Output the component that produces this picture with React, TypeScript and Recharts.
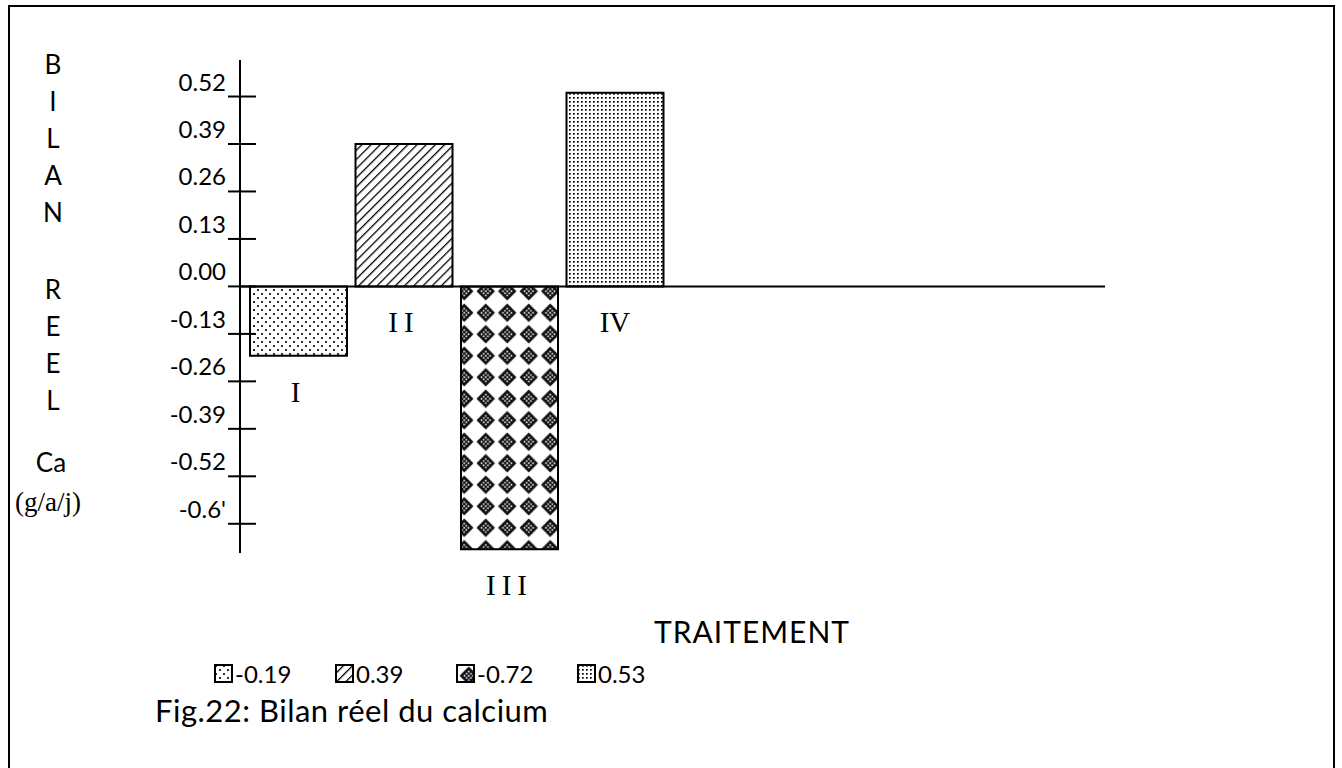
import React from 'react';
import { BarChart, Bar, XAxis, YAxis, ReferenceLine, Cell, LabelList } from 'recharts';

// treatments and their real calcium balance (g/a/j)
const treatments = ['I', 'II', 'III', 'IV'];
const balances = [-0.19, 0.39, -0.72, 0.53];
const legendLabels = ['-0.19', '0.39', '-0.72', '0.53'];

// y axis ticks as printed on the figure
const yTicks = [0.52, 0.39, 0.26, 0.13, 0, -0.13, -0.26, -0.39, -0.52, -0.65];
const yTickLabels = ['0.52', '0.39', '0.26', '0.13', '0.00', '-0.13', '-0.26', '-0.39', '-0.52', "-0.6'"];

const sideWord1 = ['B', 'I', 'L', 'A', 'N'];
const sideWord2 = ['R', 'E', 'E', 'L'];

const patternIds = ['pStipple', 'pHatch', 'pDiamond', 'pGrid'];

const data = treatments.map((name, i) => ({ name, value: balances[i] }));

const sans = 'Lato, "DejaVu Sans", sans-serif';
const serif = '"Liberation Serif", "DejaVu Serif", serif';

const YTick = (props: any) => {
  const { y, payload } = props;
  const idx = yTicks.indexOf(payload.value);
  return (
    <g>
      <line x1={228} x2={256} y1={y} y2={y} stroke="#000" strokeWidth={2} />
      <text x={226} y={y - 6} textAnchor="end" fontSize={24} fontFamily={sans} fill="#000">
        {idx >= 0 ? yTickLabels[idx] : payload.value}
      </text>
    </g>
  );
};

const RomanLabel = (props: any) => {
  const { x, y, width, height, value } = props;
  const bottom = Math.max(y, y + height);
  const spaced = !String(value).includes('V');
  return (
    <text
      x={x + width / 2}
      y={bottom + 46}
      textAnchor="middle"
      fontSize={29}
      fontFamily={serif}
      letterSpacing={spaced ? 6 : 0}
      fill="#000"
    >
      {value}
    </text>
  );
};

const Patterns = () => (
  <defs>
    <pattern id="pStipple" patternUnits="userSpaceOnUse" width={8} height={8}>
      <rect width={8} height={8} fill="#fff" />
      <circle cx={2} cy={2} r={1.1} fill="#000" />
      <circle cx={6} cy={6} r={1.1} fill="#000" />
    </pattern>
    <pattern id="pHatch" patternUnits="userSpaceOnUse" width={6.5} height={6.5} patternTransform="rotate(45)">
      <rect width={6.5} height={6.5} fill="#fff" />
      <line x1={0} y1={0} x2={0} y2={6.5} stroke="#000" strokeWidth={2.6} />
    </pattern>
    <pattern id="pDiamond" patternUnits="userSpaceOnUse" width={21.5} height={21.5} x={2} y={1}>
      <rect width={21.5} height={21.5} fill="#fff" />
      <polygon points="10.75,1.5 20,10.75 10.75,20 1.5,10.75" fill="#111" />
      <circle cx={10.75} cy={6.5} r={0.9} fill="#fff" />
      <circle cx={6.5} cy={10.75} r={0.9} fill="#fff" />
      <circle cx={15} cy={10.75} r={0.9} fill="#fff" />
      <circle cx={10.75} cy={15} r={0.9} fill="#fff" />
      <circle cx={8.6} cy={8.6} r={0.9} fill="#fff" />
      <circle cx={12.9} cy={8.6} r={0.9} fill="#fff" />
      <circle cx={8.6} cy={12.9} r={0.9} fill="#fff" />
      <circle cx={12.9} cy={12.9} r={0.9} fill="#fff" />
      <circle cx={10.75} cy={10.75} r={0.9} fill="#fff" />
    </pattern>
    <pattern id="pGrid" patternUnits="userSpaceOnUse" width={4} height={4}>
      <rect width={4} height={4} fill="#fff" />
      <rect x={1} y={1} width={1.7} height={1.7} fill="#000" />
    </pattern>
  </defs>
);

const letterStyle = (top: number): React.CSSProperties => ({
  position: 'absolute',
  left: 38,
  width: 30,
  top,
  textAlign: 'center',
  fontFamily: sans,
  fontSize: 26,
  lineHeight: '28px',
});

export default function App() {
  return (
    <div
      style={{
        position: 'absolute',
        left: 0,
        top: 0,
        width: 1342,
        height: 768,
        overflow: 'hidden',
        background: '#fff',
      }}
    >
      {/* frame, open at the bottom */}
      <div
        style={{
          position: 'absolute',
          left: 8,
          top: 5,
          width: 1323,
          height: 820,
          border: '2px solid #000',
          borderBottom: 'none',
        }}
      />

      {/* vertical axis title */}
      {sideWord1.map((l, i) => (
        <div key={'a' + i} style={letterStyle(50 + i * 37)}>
          {l}
        </div>
      ))}
      {sideWord2.map((l, i) => (
        <div key={'b' + i} style={letterStyle(275 + i * 37)}>
          {l}
        </div>
      ))}
      <div style={{ position: 'absolute', left: 16, width: 70, top: 446, textAlign: 'center', fontFamily: sans, fontSize: 26 }}>
        Ca
      </div>
      <div style={{ position: 'absolute', left: 6, width: 84, top: 487, textAlign: 'center', fontFamily: serif, fontSize: 27 }}>
        (g/a/j)
      </div>

      <div style={{ position: 'absolute', left: 0, top: 0 }}>
        <BarChart width={1342} height={768} data={data} margin={{ top: 60, right: 237, bottom: 215, left: 0 }}>
          <Patterns />
          <XAxis dataKey="name" hide padding={{ left: 6, right: 437 }} />
          <YAxis
            type="number"
            domain={[-0.73, 0.62]}
            ticks={yTicks}
            interval={0}
            width={240}
            axisLine={{ stroke: '#000', strokeWidth: 2 }}
            tickLine={false}
            tick={<YTick />}
          />
          <ReferenceLine y={0} stroke="#000" strokeWidth={2} />
          <Bar dataKey="value" barSize={97} stroke="#000" strokeWidth={2} isAnimationActive={false}>
            {data.map((d, i) => (
              <Cell key={d.name} fill={`url(#${patternIds[i]})`} />
            ))}
            <LabelList dataKey="name" content={<RomanLabel />} />
          </Bar>
        </BarChart>
      </div>

      <div style={{ position: 'absolute', left: 654, top: 613, fontFamily: sans, fontSize: 30, letterSpacing: 1 }}>
        TRAITEMENT
      </div>

      {/* legend */}
      <div style={{ position: 'absolute', left: 214, top: 659, display: 'flex' }}>
        {legendLabels.map((lab, i) => (
          <div key={lab} style={{ width: 121, display: 'flex', alignItems: 'center' }}>
            <svg width={19} height={19} style={{ marginRight: 2 }}>
              <rect x={1} y={1} width={17} height={17} fill={`url(#${patternIds[i]})`} stroke="#000" strokeWidth={2} />
            </svg>
            <span style={{ fontFamily: sans, fontSize: 24 }}>{lab}</span>
          </div>
        ))}
      </div>

      <div style={{ position: 'absolute', left: 155, top: 691, fontFamily: sans, fontSize: 31, letterSpacing: 0.5 }}>
        Fig.22: Bilan réel du calcium
      </div>
    </div>
  );
}
